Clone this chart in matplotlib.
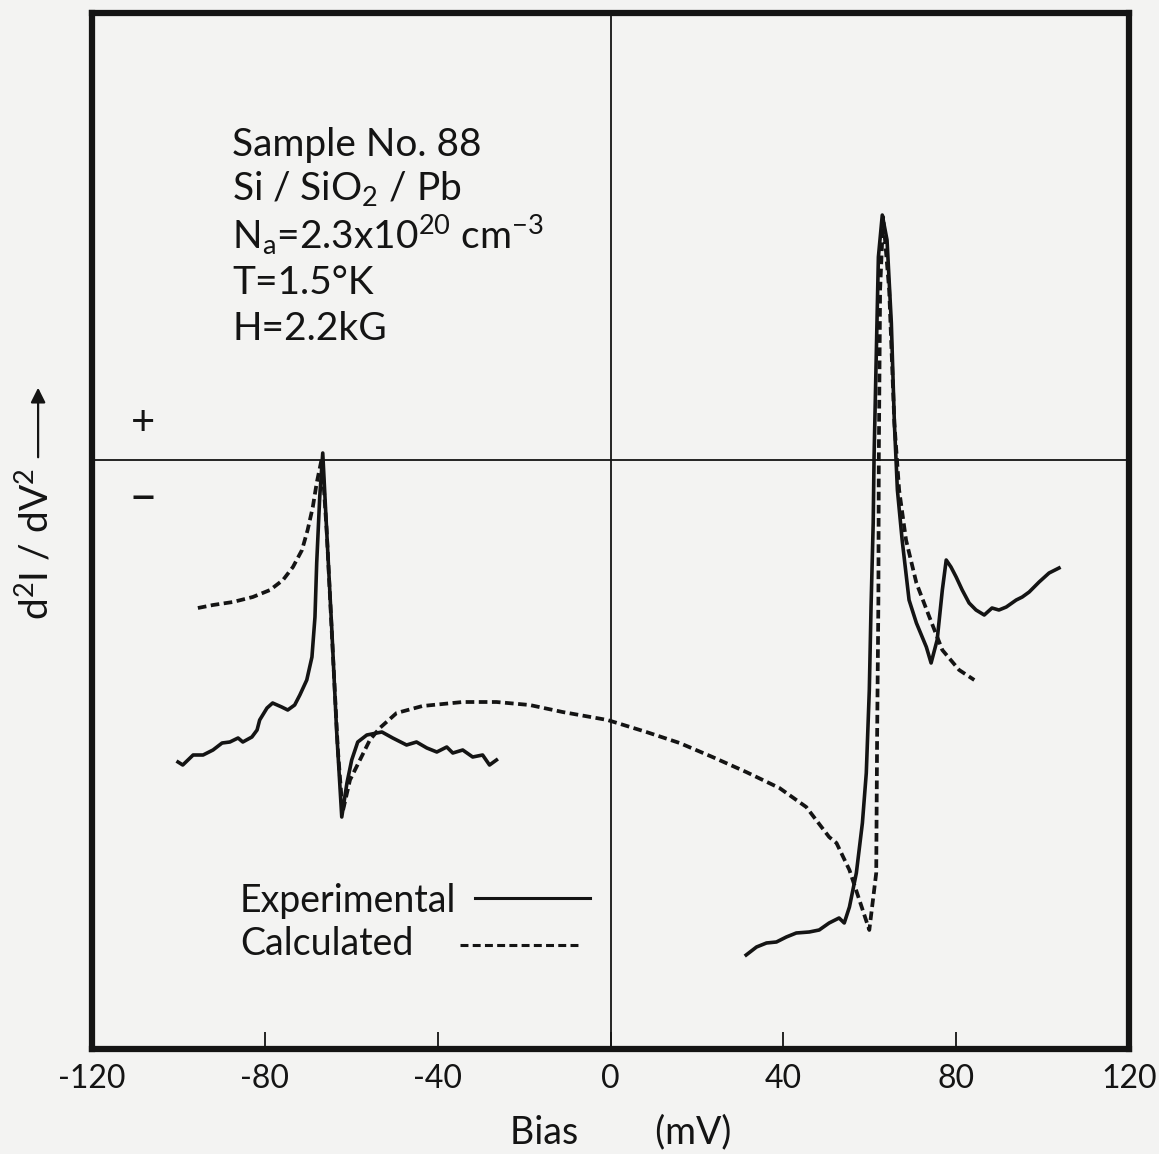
import matplotlib
matplotlib.use('Agg')
import matplotlib.pyplot as plt

plt.rcParams['font.family'] = ['Lato', 'DejaVu Sans']
plt.rcParams['mathtext.fontset'] = 'custom'
plt.rcParams['mathtext.rm'] = 'Lato'
plt.rcParams['mathtext.it'] = 'Lato:italic'
plt.rcParams['axes.unicode_minus'] = False

INK = '#141414'
PAPER = '#f3f3f2'

# Experimental curve, negative bias branch (mV, arbitrary units)
exp_left_x = [-100.1, -99.0, -96.6, -94.3, -92.0, -89.9, -88.1, -86.2, -85.1,
              -83.0, -81.8, -81.2, -79.5, -78.2, -76.1, -74.7, -73.1, -71.9,
              -70.3, -69.1, -68.4, -68.0, -67.3, -66.6, -65.7, -64.5, -63.4,
              -62.2, -61.0, -59.9, -58.5, -56.4, -54.1, -52.9, -50.4, -47.2,
              -44.9, -42.5, -40.2, -37.9, -36.5, -34.2, -31.9, -29.6, -28.0,
              -26.4]
exp_left_y = [-3.02, -3.05, -2.95, -2.95, -2.90, -2.83, -2.82, -2.78, -2.82,
              -2.77, -2.70, -2.60, -2.48, -2.43, -2.47, -2.50, -2.45, -2.35,
              -2.20, -1.97, -1.57, -1.03, -0.37, 0.07, -0.70, -1.70, -2.70,
              -3.57, -3.23, -3.00, -2.82, -2.75, -2.73, -2.72, -2.78, -2.85,
              -2.82, -2.88, -2.92, -2.87, -2.93, -2.90, -2.97, -2.95, -3.05,
              -3.00]

# Experimental curve, positive bias branch
exp_right_x = [31.4, 33.8, 36.1, 38.4, 40.7, 43.0, 46.0, 48.3, 50.6, 52.9,
               54.1, 55.3, 56.9, 58.3, 59.2, 59.9, 60.3, 60.8, 61.0, 61.5,
               62.0, 62.9, 64.0, 65.0, 65.7, 66.4, 67.5, 69.1, 70.8, 73.1,
               74.2, 75.6, 76.8, 77.7, 78.8, 80.0, 81.4, 83.0, 84.6, 86.5,
               88.3, 89.9, 91.6, 93.9, 95.3, 96.9, 99.2, 101.5, 103.8]
exp_right_y = [-4.95, -4.87, -4.83, -4.82, -4.77, -4.73, -4.72, -4.70, -4.63,
               -4.58, -4.63, -4.47, -4.13, -3.63, -3.13, -2.30, -1.47, -0.63,
               0.03, 1.03, 2.03, 2.45, 2.20, 1.37, 0.37, -0.30, -0.80, -1.40,
               -1.63, -1.87, -2.03, -1.80, -1.30, -1.00, -1.07, -1.17, -1.30,
               -1.43, -1.50, -1.55, -1.48, -1.50, -1.47, -1.40, -1.37, -1.32,
               -1.22, -1.13, -1.08]

# Calculated curve
calc_x = [-95.5, -92.0, -87.4, -82.8, -78.8, -75.8, -73.5, -71.4, -70.1,
          -68.9, -68.0, -66.8, -65.7, -64.3, -63.1, -62.0, -60.3, -58.0,
          -55.7, -53.4, -49.5, -43.5, -34.2, -26.4, -18.7, -11.1, -0.7, 8.3,
          16.0, 23.6, 31.4, 39.1, 45.3, 50.6, 52.3, 55.3, 57.6, 59.9, 61.5,
          61.7, 62.0, 62.1, 62.4, 63.1, 64.5, 65.7, 66.8, 68.4, 70.8, 73.8,
          76.8, 80.7, 84.2]
calc_y = [-1.48, -1.45, -1.42, -1.37, -1.30, -1.20, -1.07, -0.90, -0.70,
          -0.47, -0.23, 0.02, -0.70, -1.90, -2.90, -3.52, -3.20, -3.00, -2.80,
          -2.68, -2.53, -2.46, -2.42, -2.42, -2.45, -2.52, -2.60, -2.72, -2.83,
          -2.97, -3.12, -3.28, -3.47, -3.77, -3.83, -4.10, -4.40, -4.70, -4.13,
          -2.80, -1.40, 0.03, 1.70, 2.43, 1.70, 0.37, -0.30, -0.80, -1.23,
          -1.57, -1.90, -2.10, -2.20]

x_ticks = [-120, -80, -40, 0, 40, 80, 120]
info_lines = ['Sample No. 88',
              'Si / SiO$_2$ / Pb',
              'N$_\\mathrm{a}$=2.3x10$^{20}$ cm$^{-3}$',
              'T=1.5°K',
              'H=2.2kG']

fig = plt.figure(figsize=(11.59, 11.54), dpi=100, facecolor=PAPER)
ax = fig.add_axes([0.0794, 0.0910, 0.8947, 0.8977], facecolor=PAPER)

# Zero reference lines
ax.axhline(0, color=INK, lw=1.3, zorder=1)
ax.axvline(0, color=INK, lw=1.3, zorder=1)

ax.plot(exp_left_x, exp_left_y, color=INK, lw=2.6, solid_joinstyle='round')
ax.plot(exp_right_x, exp_right_y, color=INK, lw=2.6, solid_joinstyle='round')
ax.plot(calc_x, calc_y, color=INK, lw=2.7, linestyle=(0, (2.3, 1.2)))

ax.set_xlim(-120, 120)
ax.set_ylim(-5.89, 4.47)
ax.set_xticks(x_ticks)
ax.set_xticklabels([str(t) for t in x_ticks])
ax.set_yticks([])
ax.tick_params(axis='x', direction='in', length=12, width=1.3, pad=11,
               labelsize=23, colors=INK)
for s in ax.spines.values():
    s.set_linewidth(4.5)
    s.set_color(INK)

ax.set_xlabel('Bias        (mV)', fontsize=27, color=INK)
ax.xaxis.set_label_coords(0.51, -0.063)

# Y label with upward arrow
ax.text(-0.055, 0.487, 'd$^2$I / dV$^2$', rotation=90, fontsize=28,
        color=INK, ha='center', va='center', transform=ax.transAxes)
ax.annotate('', xy=(-0.052, 0.641), xytext=(-0.052, 0.5685),
            xycoords='axes fraction', textcoords='axes fraction',
            arrowprops=dict(arrowstyle='-|>', lw=1.6, color=INK,
                            mutation_scale=22), annotation_clip=False)
ax.text(0.049, 0.604, '+', fontsize=30, color=INK, ha='center', va='center',
        transform=ax.transAxes)
ax.text(0.049, 0.532, '\u2013', fontsize=36, color=INK, ha='center',
        va='center', transform=ax.transAxes)

# Sample description
for txt, yy in zip(info_lines, [0.862, 0.8195, 0.773, 0.7288, 0.6844]):
    ax.text(0.135, yy, txt, fontsize=28, color=INK, ha='left',
            va='baseline', transform=ax.transAxes)

# Hand-drawn style legend
ax.text(0.1427, 0.1322, 'Experimental', fontsize=27, color=INK,
        va='baseline', transform=ax.transAxes)
ax.text(0.1427, 0.0907, 'Calculated', fontsize=27, color=INK,
        va='baseline', transform=ax.transAxes)
ax.plot([0.3693, 0.4802], [0.1458, 0.1458], color=INK, lw=2.2,
        transform=ax.transAxes)
ax.plot([0.3549, 0.4725], [0.1004, 0.1004], color=INK, lw=2.2,
        linestyle=(0, (2.6, 1.4)), transform=ax.transAxes)

fig.savefig('out.png', dpi=100, facecolor=PAPER)
